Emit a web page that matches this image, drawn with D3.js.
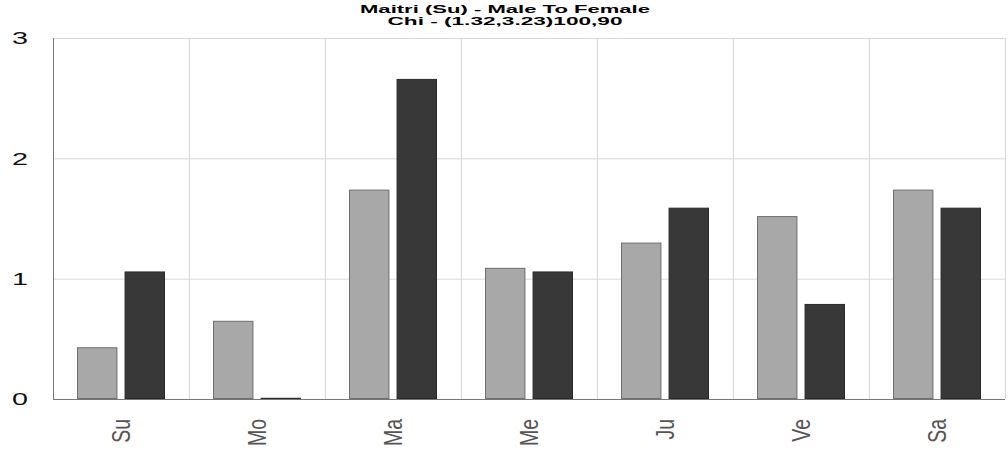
<!DOCTYPE html>
<html><head><meta charset="utf-8">
<script src="https://cdn.jsdelivr.net/npm/d3@7"></script>
<style>body{margin:0;background:#fff}svg{display:block}</style>
</head><body>
<svg id="c" width="1008" height="453"></svg>
<script>
const categories = ["Su","Mo","Ma","Me","Ju","Ve","Sa"];
const seriesMale = [0.43,0.65,1.74,1.09,1.30,1.52,1.74];
const seriesFemale = [1.06,0.01,2.66,1.06,1.59,0.79,1.59];
const yTicks = [0,1,2,3];
const titleLines = ["Maitri (Su) - Male To Female","Chi - (1.32,3.23)100,90"];

const svg = d3.select("#c");
const m = {l:53, r:1005, t:38, b:399};
const x = d3.scaleBand().domain(categories).range([m.l, m.r]);
const y = d3.scaleLinear().domain([0,3]).range([m.b, m.t]);

// gridlines
svg.append("g").selectAll("line").data(yTicks.filter(d=>d>0)).join("line")
  .attr("x1", m.l).attr("x2", m.r).attr("y1", d=>y(d)+0.5).attr("y2", d=>y(d)+0.5)
  .attr("stroke", "#d8d8d8");
svg.append("g").selectAll("line").data(categories).join("line")
  .attr("x1", d=>Math.round(x(d)+x.bandwidth())+0.5).attr("x2", d=>Math.round(x(d)+x.bandwidth())+0.5)
  .attr("y1", m.t).attr("y2", m.b).attr("stroke", "#d8d8d8");

const inner = d3.scaleBand().domain(["m","f"]).range([24, x.bandwidth()-24]).paddingInner(0.15);
const data = categories.map((c,i)=>({c, m:seriesMale[i], f:seriesFemale[i]}));
const g = svg.append("g");
data.forEach(d=>{
  [["m","#a8a8a8","#6e6e6e"],["f","#383838","#2a2a2a"]].forEach(([k,fill,stroke])=>{
    g.append("rect")
      .attr("x", x(d.c)+inner(k)+0.5)
      .attr("y", y(d[k])+0.5)
      .attr("width", inner.bandwidth()-1)
      .attr("height", Math.max(0, y(0)-y(d[k])-1))
      .attr("fill", fill).attr("stroke", stroke).attr("stroke-width", 1);
  });
});

// axes lines
svg.append("line").attr("x1", m.l+0.5).attr("x2", m.l+0.5).attr("y1", m.t).attr("y2", m.b)
  .attr("stroke", "#777");
svg.append("line").attr("x1", m.l).attr("x2", m.r).attr("y1", m.b+0.5).attr("y2", m.b+0.5)
  .attr("stroke", "#777");

// y tick labels
const yAxis = d3.axisLeft(y).tickValues(yTicks).tickSize(0).tickPadding(0).tickFormat(d3.format("d"));
const ya = svg.append("g").attr("transform", `translate(20,0)`).call(yAxis);
ya.select(".domain").remove();
ya.selectAll("text").attr("font-family","Liberation Sans").attr("font-size",16.5)
  .attr("fill","#111").attr("text-anchor","middle").attr("x",0).attr("dy","0.36em")
  .attr("textLength",16).attr("lengthAdjust","spacingAndGlyphs");

// x labels
const xAxis = d3.axisBottom(x).tickSize(0).tickPadding(0);
const xa = svg.append("g").attr("transform", `translate(0,${m.b})`).call(xAxis);
xa.select(".domain").remove();
xa.selectAll("text").attr("font-family","Liberation Sans Narrow, Liberation Sans").attr("font-size",26)
  .attr("fill","#555").attr("text-anchor","end")
  .attr("transform","translate(0,20) rotate(-90) scale(0.75,1)")
  .attr("x",0).attr("y",0).attr("dy","0.35em");

// title
svg.append("g").selectAll("text").data(titleLines).join("text")
  .attr("x", 505).attr("y",(d,i)=>12.5+i*12).attr("text-anchor","middle")
  .attr("font-family","Liberation Sans").attr("font-weight","bold").attr("font-size",11)
  .attr("textLength",(d,i)=>i===0?290:235).attr("lengthAdjust","spacingAndGlyphs")
  .attr("fill","#000").text(d=>d);
</script>
</body></html>
